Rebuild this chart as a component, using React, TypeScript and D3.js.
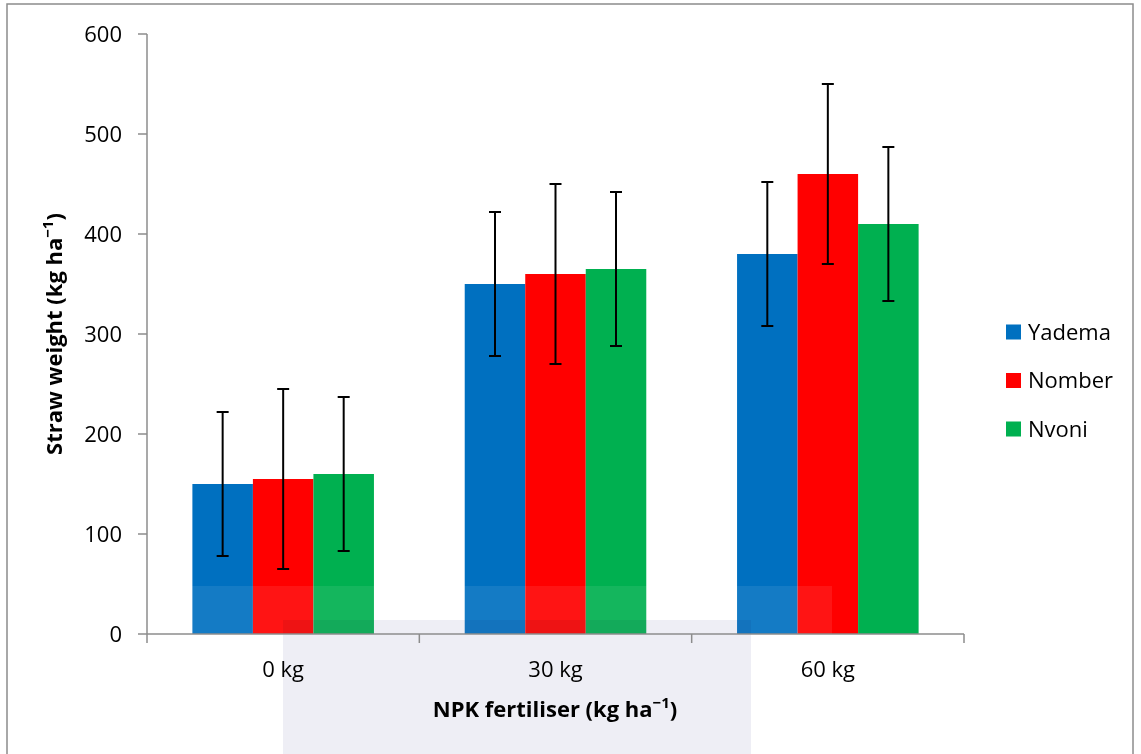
import React from "react";
import * as d3 from "d3";

const categories = ["0 kg", "30 kg", "60 kg"];
const seriesNames = ["Yadema", "Nomber", "Nvoni"];
const seriesColors = ["#0070C0", "#FF0000", "#00B050"];
const yadema = [150, 350, 380];
const nomber = [155, 360, 460];
const nvoni = [160, 365, 410];
const yademaErr = [72, 72, 72];
const nomberErr = [90, 90, 90];
const nvoniErr = [77, 77, 77];
const yTicks = [0, 100, 200, 300, 400, 500, 600];

const values = [yadema, nomber, nvoni];
const errors = [yademaErr, nomberErr, nvoniErr];

export default function App() {
  const W = 1141, H = 754;
  const x0 = 147, x1 = 964, yTop = 34, yBot = 634;
  const y = d3.scaleLinear().domain([0, 600]).range([yBot, yTop]);
  const xCat = d3.scaleBand().domain(categories).range([x0, x1]).paddingInner(1 / 3).paddingOuter(1 / 6);
  const xSer = d3.scaleBand().domain(seriesNames).range([0, xCat.bandwidth()]);
  const font = "'Open Sans', sans-serif";
  const axisColor = "#8c8c8c";
  return (
    <svg width={W} height={H} style={{ position: "absolute", left: 0, top: 0 }}>
      <rect x={0} y={0} width={W} height={H} fill="#fff" />
      <rect x={7} y={4} width={1126} height={800} fill="none" stroke="#8c8c8c" strokeWidth={1.5} />
      {/* bars */}
      {categories.map((c, ci) =>
        seriesNames.map((s, si) => (
          <rect key={c + s} x={(xCat(c) as number) + (xSer(s) as number)} y={y(values[si][ci])}
            width={xSer.bandwidth()} height={yBot - y(values[si][ci])} fill={seriesColors[si]} />
        ))
      )}
      {/* watermark */}
      <rect x={192} y={586} width={640} height={48} fill="#ffffff" opacity={0.08} />
      <rect x={283} y={620} width={468} height={134} fill="#eeeef5" style={{ mixBlendMode: "multiply" }} />
      {/* error bars */}
      {categories.map((c, ci) =>
        seriesNames.map((s, si) => {
          const cx = (xCat(c) as number) + (xSer(s) as number) + xSer.bandwidth() / 2;
          const v = values[si][ci], e = errors[si][ci];
          return (
            <g key={"e" + c + s} stroke="#000" strokeWidth={2}>
              <line x1={cx} x2={cx} y1={y(v + e)} y2={y(v - e)} />
              <line x1={cx - 6} x2={cx + 6} y1={y(v + e)} y2={y(v + e)} />
              <line x1={cx - 6} x2={cx + 6} y1={y(v - e)} y2={y(v - e)} />
            </g>
          );
        })
      )}
      {/* y axis */}
      <line x1={x0} x2={x0} y1={yTop} y2={yBot} stroke={axisColor} strokeWidth={1.5} />
      {yTicks.map((t) => (
        <g key={t}>
          <line x1={x0 - 9} x2={x0} y1={y(t)} y2={y(t)} stroke={axisColor} strokeWidth={1.5} />
          <text x={122} y={y(t)} dy="0.36em" textAnchor="end" fontFamily={font} fontSize={22} fill="#000">{t}</text>
        </g>
      ))}
      {/* x axis */}
      <line x1={x0} x2={x1} y1={yBot} y2={yBot} stroke={axisColor} strokeWidth={1.5} />
      {[0, 1, 2, 3].map((i) => {
        const xx = x0 + (i * (x1 - x0)) / 3;
        return <line key={i} x1={xx} x2={xx} y1={yBot} y2={yBot + 9} stroke={axisColor} strokeWidth={1.5} />;
      })}
      {categories.map((c) => (
        <text key={c} x={(xCat(c) as number) + xCat.bandwidth() / 2} y={677} textAnchor="middle" fontFamily={font} fontSize={22} fill="#000">{c}</text>
      ))}
      {/* axis titles */}
      <text x={555} y={717} textAnchor="middle" fontFamily={font} fontSize={22} fontWeight="bold" fill="#000">
        NPK fertiliser (kg ha<tspan dy={-9} fontSize={15}>−1</tspan><tspan dy={9}>)</tspan>
      </text>
      <text transform="translate(62,334) rotate(-90)" textAnchor="middle" fontFamily={font} fontSize={22} fontWeight="bold" fill="#000">
        Straw weight (kg ha<tspan dy={-9} fontSize={15}>−1</tspan><tspan dy={9}>)</tspan>
      </text>
      {/* legend */}
      {seriesNames.map((s, i) => {
        const cy = 332 + i * 48.5;
        return (
          <g key={s}>
            <rect x={1006} y={cy - 7.5} width={15} height={15} fill={seriesColors[i]} />
            <text x={1028} y={cy} dy="0.36em" fontFamily={font} fontSize={22} fill="#000">{s}</text>
          </g>
        );
      })}
    </svg>
  );
}
